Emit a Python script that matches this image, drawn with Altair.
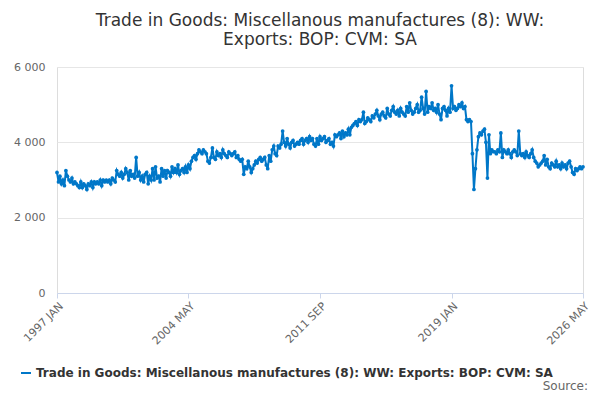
import altair as alt
import pandas as pd

series_name = "Trade in Goods: Miscellanous manufactures (8): WW: Exports: BOP: CVM: SA"
values = [
3200,2950,3100,2900,3000,2850,3250,3100,3000,2950,3050,2900,
2950,2900,2850,2800,2950,2800,2900,2850,2750,2900,2850,2950,
2800,2950,2900,2950,2900,3000,2850,3000,2950,3000,2950,3000,
2900,3050,3000,2950,3250,3150,3100,3200,3050,3150,3300,3200,
3000,3250,3100,3150,3050,3600,3100,3200,3000,3100,2950,3150,
3200,2900,3100,3000,3300,3000,3350,3050,3100,2950,3300,3100,
3250,3050,3250,3200,3100,3350,3200,3300,3200,3400,3150,3250,
3300,3200,3350,3200,3400,3300,3500,3600,3650,3550,3700,3800,
3750,3700,3800,3750,3700,3500,3450,3600,3850,3600,3550,3750,
3650,3700,3600,3800,3700,3650,3600,3750,3700,3650,3700,3750,
3600,3650,3550,3500,3550,3150,3350,3300,3500,3350,3200,3300,
3400,3500,3450,3550,3600,3500,3550,3600,3400,3300,3650,3500,
3800,3900,3700,3650,3900,3850,3950,4300,4000,3900,4100,3950,
3850,4000,4050,3900,3950,4000,3950,4050,4100,3950,4050,4100,
4000,4150,4050,4100,3950,3900,4100,3950,4150,4050,4100,4150,
4000,4050,4100,3950,4000,3900,4200,4150,4200,4250,4100,4300,
4150,4250,4200,4350,4200,4400,4450,4500,4550,4450,4600,4550,
4600,4800,4500,4550,4650,4600,4550,4700,4650,4750,4850,4700,
4600,4750,4800,4700,4650,4900,4750,4700,4850,4950,4800,4750,
4850,4700,4900,4800,4750,4700,4950,4800,5050,4850,4750,4800,
4900,5000,4800,4850,5200,4900,4750,5350,4800,4950,4900,5050,
4850,4900,4800,5000,4750,4600,4900,4950,4850,4700,4900,4800,
5500,4900,4950,4850,4900,5000,4950,5050,4900,4950,4600,4550,
4600,4550,3700,2750,3300,3800,4150,4250,4200,4300,4350,4000,
3050,4200,3700,3800,3750,3750,3700,3800,3750,4250,3600,3800,
3750,3700,3800,3700,3600,3750,3800,3750,3650,4300,3700,3650,
3700,3600,3750,3650,3600,3700,3800,3600,3500,3450,3350,3400,
3450,3500,3650,3400,3550,3350,3300,3450,3400,3350,3500,3350,
3400,3300,3450,3350,3400,3300,3450,3500,3350,3200,3150,3300,
3250,3300,3350,3300,3350,
]
dates = pd.date_range("1997-01-01", periods=len(values), freq="MS")
label_dates = ["1997-01-01", "2004-05-01", "2011-09-01", "2019-01-01", "2026-05-01"]

df = pd.DataFrame({"date": dates, "value": values, "series": series_name})

base = alt.Chart(df).encode(
    x=alt.X("date:T", title=None,
            scale=alt.Scale(domain=[label_dates[0], label_dates[-1]]),
            axis=alt.Axis(values=[pd.Timestamp(d).isoformat() for d in label_dates],
                          labelExpr="upper(timeFormat(datum.value, '%Y %b'))",
                          labelAngle=-45, grid=False, domainColor="#ccd6eb",
                          tickColor="#ccd6eb", labelColor="#666", labelFontSize=11)),
    y=alt.Y("value:Q", title=None,
            scale=alt.Scale(domain=[0, 6000]),
            axis=alt.Axis(values=[0, 2000, 4000, 6000], domain=False, ticks=False,
                          labelExpr="replace(format(datum.value, ','), ',', ' ')",
                          gridColor="#e6e6e6", labelColor="#666", labelFontSize=11,
                          labelPadding=12)),
    color=alt.Color("series:N", title=None,
                    scale=alt.Scale(range=["#0077c8"]),
                    legend=alt.Legend(orient="none", legendX=-37, legendY=300,
                                      labelFontSize=12, labelFontWeight="bold",
                                      labelColor="#333", symbolType="stroke", labelLimit=600,
                                      symbolStrokeWidth=2)),
)
line = base.mark_line(strokeWidth=2, point=alt.OverlayMarkDef(size=14, filled=True))

src = alt.Chart(pd.DataFrame({"t": ["Source:"]})).mark_text(
    align="right", fontSize=12, color="#666"
).encode(text="t:N", x=alt.value(531), y=alt.value(319))

chart = (line + src).properties(
    width=526, height=226,
    autosize=alt.AutoSizeParams(type="none"),
    padding={"left": 49, "right": 9, "top": 59, "bottom": 99},
    title=alt.Title(["Trade in Goods: Miscellanous manufactures (8): WW:", "Exports: BOP: CVM: SA"],
                    fontSize=17, fontWeight="normal", color="#333", anchor="middle", offset=12),
).configure_view(stroke=None).configure(font="DejaVu Sans")

chart.save("out.html", embed_options={"renderer": "svg", "actions": False})
